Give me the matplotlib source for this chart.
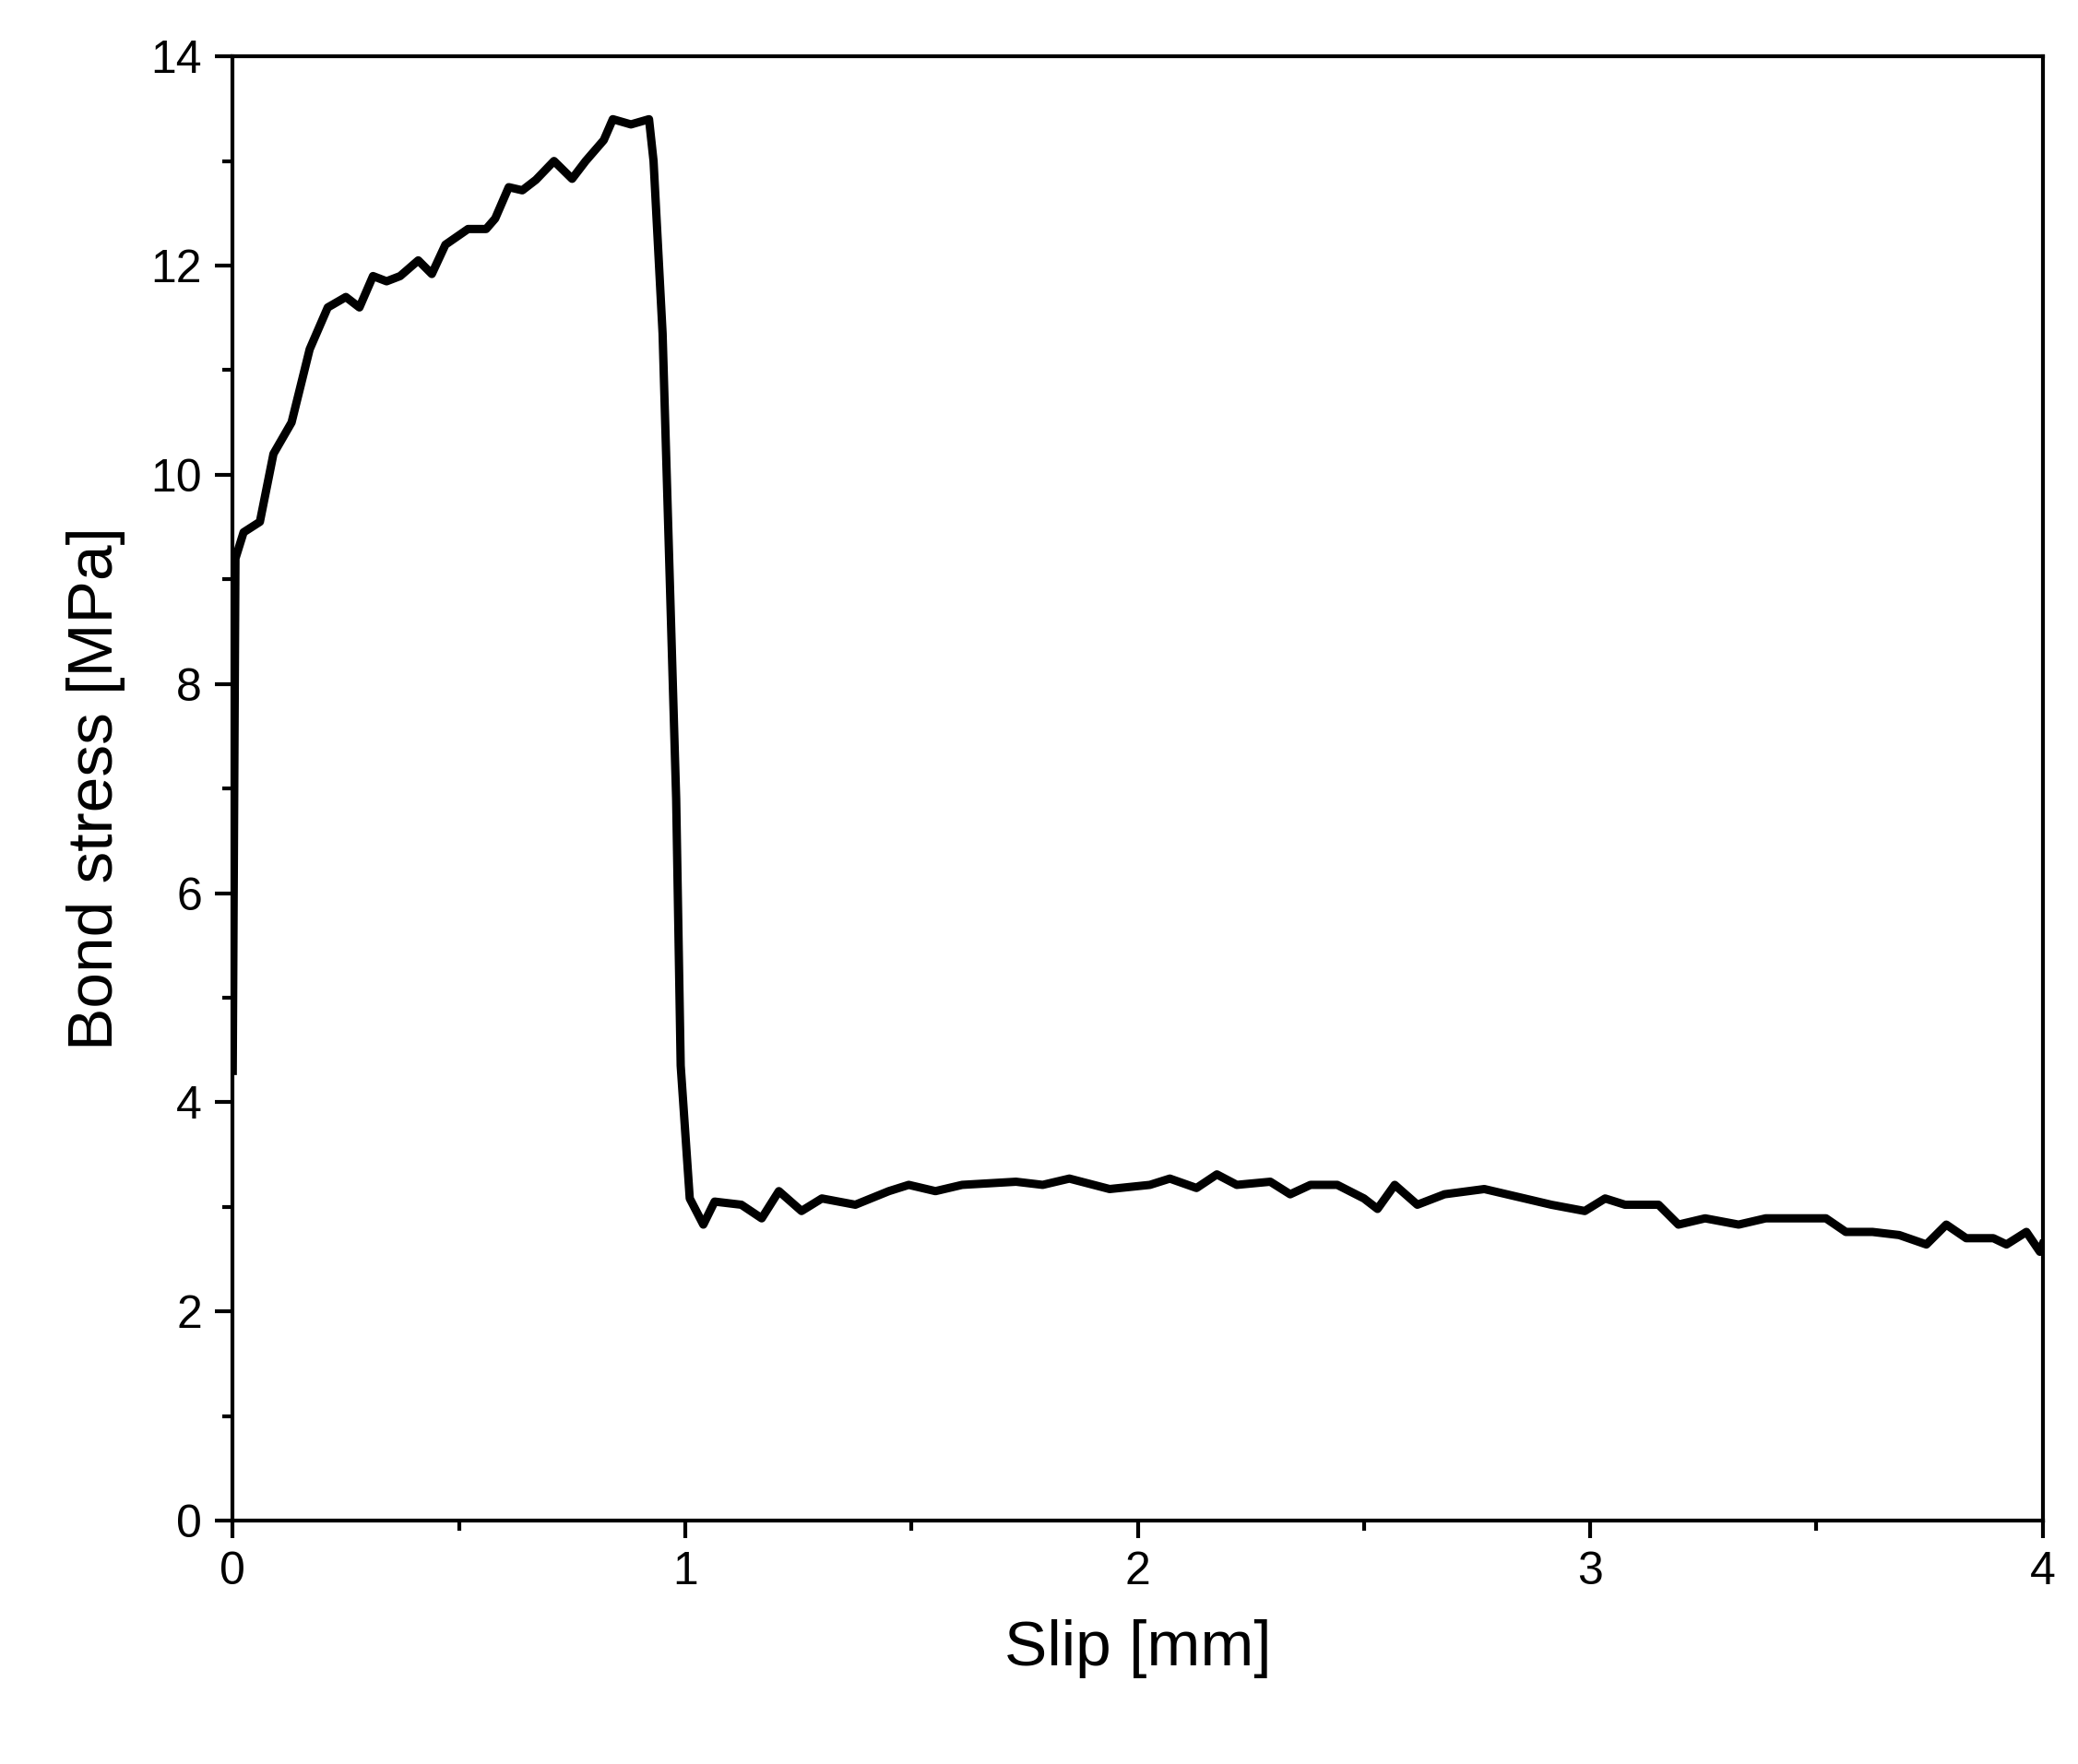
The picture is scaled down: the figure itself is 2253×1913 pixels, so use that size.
import matplotlib
matplotlib.use("Agg")
import matplotlib.pyplot as plt
from matplotlib.ticker import MultipleLocator

plt.rcParams["font.family"] = ["Liberation Sans", "DejaVu Sans"]

# slip [mm] and bond stress [MPa]
slip = [0.000, 0.006, 0.024, 0.060, 0.090, 0.130, 0.170, 0.210, 0.250, 0.280,
        0.310, 0.340, 0.370, 0.410, 0.440, 0.470, 0.520, 0.560, 0.580, 0.610,
        0.640, 0.670, 0.710, 0.750, 0.780, 0.820, 0.840, 0.880, 0.920, 0.930,
        0.950, 0.980, 0.990, 1.010, 1.040, 1.065, 1.124, 1.169, 1.207, 1.257,
        1.302, 1.376, 1.450, 1.494, 1.553, 1.612, 1.731, 1.790, 1.849, 1.938,
        2.027, 2.071, 2.130, 2.175, 2.219, 2.293, 2.337, 2.382, 2.441, 2.500,
        2.530, 2.568, 2.618, 2.678, 2.766, 2.855, 2.914, 2.988, 3.033, 3.077,
        3.151, 3.195, 3.254, 3.328, 3.388, 3.447, 3.521, 3.565, 3.624, 3.683,
        3.743, 3.787, 3.831, 3.891, 3.920, 3.964, 3.994, 4.000]
stress = [4.30, 9.20, 9.45, 9.55, 10.20, 10.50, 11.20, 11.60, 11.70, 11.60,
          11.90, 11.85, 11.90, 12.05, 11.92, 12.20, 12.35, 12.35, 12.45, 12.75,
          12.72, 12.82, 13.00, 12.83, 13.00, 13.20, 13.40, 13.35, 13.40, 13.00,
          11.35, 6.90, 4.35, 3.08, 2.83, 3.05, 3.02, 2.89, 3.15, 2.96,
          3.08, 3.02, 3.15, 3.21, 3.15, 3.21, 3.24, 3.21, 3.27, 3.17,
          3.21, 3.27, 3.18, 3.31, 3.21, 3.24, 3.12, 3.21, 3.21, 3.08,
          2.98, 3.21, 3.02, 3.12, 3.17, 3.08, 3.02, 2.96, 3.08, 3.02,
          3.02, 2.83, 2.89, 2.83, 2.89, 2.89, 2.89, 2.76, 2.76, 2.73,
          2.64, 2.83, 2.70, 2.70, 2.64, 2.76, 2.57, 2.64]

fig = plt.figure(figsize=(22.53, 19.13), dpi=100)
ax = fig.add_axes([0.112, 0.138, 0.871, 0.830])
ax.plot(slip, stress, color="black", linewidth=6.5, solid_joinstyle="round")

ax.set_xlim(0, 4)
ax.set_ylim(0, 14)
ax.xaxis.set_major_locator(MultipleLocator(1))
ax.xaxis.set_minor_locator(MultipleLocator(0.5))
ax.yaxis.set_major_locator(MultipleLocator(2))
ax.yaxis.set_minor_locator(MultipleLocator(1))
ax.tick_params(which="both", direction="out", width=3, labelsize=36)
ax.tick_params(which="major", length=14, pad=10)
ax.tick_params(which="minor", length=8)
for s in ax.spines.values():
    s.set_linewidth(3)
ax.set_xlabel("Slip [mm]", fontsize=50, labelpad=20)
ax.set_ylabel("Bond stress [MPa]", fontsize=50, labelpad=20)

fig.savefig("out.png", dpi=100)
